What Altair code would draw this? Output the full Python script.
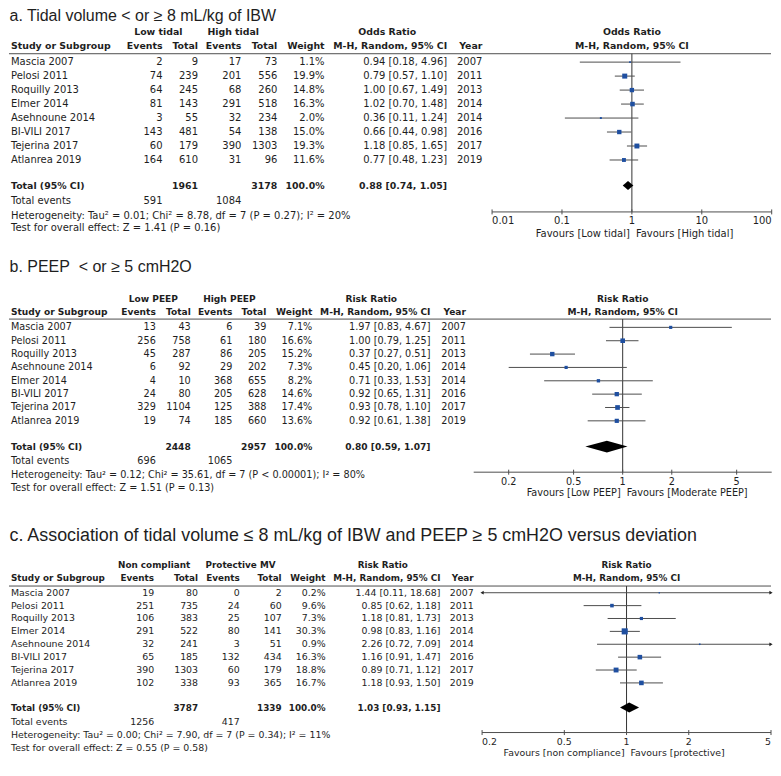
import altair as alt
import pandas as pd

# ---------------- data ----------------
# Panel a
studies_a = ["Mascia 2007", "Pelosi 2011", "Roquilly 2013", "Elmer 2014", "Asehnoune 2014",
             "BI-VILI 2017", "Tejerina 2017", "Atlanrea 2019"]
ev1_a = [2, 74, 64, 81, 3, 143, 60, 164]
tot1_a = [9, 239, 245, 143, 55, 481, 179, 610]
ev2_a = [17, 201, 68, 291, 32, 54, 390, 31]
tot2_a = [73, 556, 260, 518, 234, 138, 1303, 96]
weight_a = [1.1, 19.9, 14.8, 16.3, 2.0, 15.0, 19.3, 11.6]
est_a = [0.94, 0.79, 1.00, 1.02, 0.36, 0.66, 1.18, 0.77]
lo_a = [0.18, 0.57, 0.67, 0.70, 0.11, 0.44, 0.85, 0.48]
hi_a = [4.96, 1.10, 1.49, 1.48, 1.24, 0.98, 1.65, 1.23]
year_a = [2007, 2011, 2013, 2014, 2014, 2016, 2017, 2019]
total_a = [1961, 3178]
total_weight_a = "100.0%"
total_ci_a = [0.88, 0.74, 1.05]
total_events_a = [591, 1084]
ticks_a = [0.01, 0.1, 1, 10, 100]
tick_labels_a = ["0.01", "0.1", "1", "10", "100"]
axis_ext_a = [0.01, 100]

# Panel b
studies_b = ["Mascia 2007", "Pelosi 2011", "Roquilly 2013", "Asehnoune 2014", "Elmer 2014",
             "BI-VILI 2017", "Tejerina 2017", "Atlanrea 2019"]
ev1_b = [13, 256, 45, 6, 4, 24, 329, 19]
tot1_b = [43, 758, 287, 92, 10, 80, 1104, 74]
ev2_b = [6, 61, 86, 29, 368, 205, 125, 185]
tot2_b = [39, 180, 205, 202, 655, 628, 388, 660]
weight_b = [7.1, 16.6, 15.2, 7.3, 8.2, 14.6, 17.4, 13.6]
est_b = [1.97, 1.00, 0.37, 0.45, 0.71, 0.92, 0.93, 0.92]
lo_b = [0.83, 0.79, 0.27, 0.20, 0.33, 0.65, 0.78, 0.61]
hi_b = [4.67, 1.25, 0.51, 1.06, 1.53, 1.31, 1.10, 1.38]
year_b = [2007, 2011, 2013, 2014, 2014, 2016, 2017, 2019]
total_b = [2448, 2957]
total_weight_b = "100.0%"
total_ci_b = [0.80, 0.59, 1.07]
total_events_b = [696, 1065]
ticks_b = [0.2, 0.5, 1, 2, 5]
tick_labels_b = ["0.2", "0.5", "1", "2", "5"]
axis_ext_b = [0.122, 8.2]

# Panel c
studies_c = ["Mascia 2007", "Pelosi 2011", "Roquilly 2013", "Elmer 2014", "Asehnoune 2014",
             "BI-VILI 2017", "Tejerina 2017", "Atlanrea 2019"]
ev1_c = [19, 251, 106, 291, 32, 65, 390, 102]
tot1_c = [80, 735, 383, 522, 241, 185, 1303, 338]
ev2_c = [0, 24, 25, 80, 3, 132, 60, 93]
tot2_c = [2, 60, 107, 141, 51, 434, 179, 365]
weight_c = [0.2, 9.6, 7.3, 30.3, 0.9, 16.3, 18.8, 16.7]
est_c = [1.44, 0.85, 1.18, 0.98, 2.26, 1.16, 0.89, 1.18]
lo_c = [0.11, 0.62, 0.81, 0.83, 0.72, 0.91, 0.71, 0.93]
hi_c = [18.68, 1.18, 1.73, 1.16, 7.09, 1.47, 1.12, 1.50]
year_c = [2007, 2011, 2013, 2014, 2014, 2016, 2017, 2019]
total_c = [3787, 1339]
total_weight_c = "100.0%"
total_ci_c = [1.03, 0.93, 1.15]
total_events_c = [1256, 417]
ticks_c = [0.2, 0.5, 1, 2, 5]
tick_labels_c = ["0.2", "0.5", "1", "2", "5"]
axis_ext_c = [0.2, 5]

panels = [
    dict(title="a. Tidal volume < or \u2265 8 mL/kg of IBW",
         groups=["Low tidal", "High tidal", "Odds Ratio"],
         studies=studies_a, ev1=ev1_a, tot1=tot1_a, ev2=ev2_a, tot2=tot2_a, weight=weight_a,
         est=est_a, lo=lo_a, hi=hi_a, year=year_a, total=total_a, total_weight=total_weight_a,
         total_ci=total_ci_a, total_events=total_events_a, ticks=ticks_a,
         tick_labels=tick_labels_a, ext=axis_ext_a,
         het="Heterogeneity: Tau\u00b2 = 0.01; Chi\u00b2 = 8.78, df = 7 (P = 0.27); I\u00b2 = 20%",
         test="Test for overall effect: Z = 1.41 (P = 0.16)",
         fav=["Favours [Low tidal]", "Favours [High tidal]"]),
    dict(title="b. PEEP\u00a0 < or \u2265 5 cmH2O",
         groups=["Low PEEP", "High PEEP", "Risk Ratio"],
         studies=studies_b, ev1=ev1_b, tot1=tot1_b, ev2=ev2_b, tot2=tot2_b, weight=weight_b,
         est=est_b, lo=lo_b, hi=hi_b, year=year_b, total=total_b, total_weight=total_weight_b,
         total_ci=total_ci_b, total_events=total_events_b, ticks=ticks_b,
         tick_labels=tick_labels_b, ext=axis_ext_b,
         het="Heterogeneity: Tau\u00b2 = 0.12; Chi\u00b2 = 35.61, df = 7 (P < 0.00001); I\u00b2 = 80%",
         test="Test for overall effect: Z = 1.51 (P = 0.13)",
         fav=["Favours [Low PEEP]", "Favours [Moderate PEEP]"]),
    dict(title="c. Association of tidal volume \u2264 8 mL/kg of IBW and PEEP \u2265 5 cmH2O versus deviation",
         groups=["Non compliant", "Protective MV", "Risk Ratio"],
         studies=studies_c, ev1=ev1_c, tot1=tot1_c, ev2=ev2_c, tot2=tot2_c, weight=weight_c,
         est=est_c, lo=lo_c, hi=hi_c, year=year_c, total=total_c, total_weight=total_weight_c,
         total_ci=total_ci_c, total_events=total_events_c, ticks=ticks_c,
         tick_labels=tick_labels_c, ext=axis_ext_c,
         het="Heterogeneity: Tau\u00b2 = 0.00; Chi\u00b2 = 7.90, df = 7 (P = 0.34); I\u00b2 = 11%",
         test="Test for overall effect: Z = 0.55 (P = 0.58)",
         fav=["Favours [non compliance]", "Favours [protective]"]),
]

# ---------------- layout (reference pixel positions) ----------------
# y0/H: reference y-range shown by each panel (panels are stacked without gaps)
layouts = [
    dict(y0=5, H=229, title_y=11, title_fs=16, fs=10, fsb=9.4,
         h1=26.7, h2=41, line=48.3, row0=56.7, step=14.0,
         total=180.3, tev=195.7, het=210.7, test=223.3, axis=206.7, tlab=215.8, fav=229.3,
         diamond=4.5, x0=491.7, x1=771.7,
         cols=dict(ev1=161.7, tot1=197.3, ev2=240.7, tot2=276.7, weight=324, ci=446.7, year=482),
         gcent=[157.5, 232.5, 386.7]),
    dict(y0=240, H=259, title_y=266.7, title_fs=16, fs=9.7, fsb=9.1,
         h1=299, h2=311.7, line=319, row0=327.3, step=13.37,
         total=446.7, tev=461, het=475, test=487.7, axis=472.3, tlab=481.9, fav=493.5,
         diamond=5.8, x0=473.3, x1=771.7,
         cols=dict(ev1=155, tot1=190, ev2=231.7, tot2=265.7, weight=311.7, ci=430, year=465.5),
         gcent=[152.5, 228.7, 370.7]),
    dict(y0=516, H=260, title_y=553.3, title_fs=17.9, fs=9.4, fsb=8.85,
         h1=582.3, h2=595.7, line=603.3, row0=610, step=12.9,
         total=725, tev=739.3, het=752.7, test=765.3, axis=750, tlab=759.5, fav=770,
         diamond=5.0, x0=481.7, x1=771,
         cols=dict(ev1=153.3, tot1=197.3, ev2=239, tot2=281, weight=325, ci=440, year=473.3),
         gcent=[153.3, 239.8, 382.3]),
]

PAGE = 8
W = 763
TEXT = "#1e1e1e"
BLUE = "#1f4fa0"
GREY = "#4d4d4d"
FONT = "DejaVu Sans"
TFONT = "Liberation Sans"


def ci_text(e, l, h):
    return f"{e:.2f} [{l:.2f}, {h:.2f}]"


def build(d, L):
    FS, FSB = L["fs"], L["fsb"]
    ys = alt.Scale(domain=[L["y0"], L["y0"] + L["H"]], range=[0, L["H"]])
    xs = alt.Scale(type="log", domain=d["ext"], range=[L["x0"] - PAGE, L["x1"] - PAGE], clamp=True)
    Y = lambda f: alt.Y(f"{f}:Q", scale=ys, axis=None)
    X = lambda f: alt.X(f"{f}:Q", scale=xs, axis=None)
    cols = L["cols"]
    layers = []

    def T(df, xpx, field="t", align="right", bold=False, size=None, font=FONT):
        if size is None:
            size = FSB if bold else FS
        return alt.Chart(df).mark_text(
            align=align, baseline="middle", font=font, fontSize=size,
            fontWeight="bold" if bold else "normal", color=TEXT
        ).encode(x=alt.value(xpx - PAGE), y=Y("y"), text=alt.Text(f"{field}:N"))

    def one(text, y):
        return pd.DataFrame({"t": [text], "y": [y]})

    # title
    layers.append(T(one(d["title"], L["title_y"]), PAGE + 0.5, align="left", size=L["title_fs"], font=TFONT))
    # header row 1
    for g, cx in zip(d["groups"], L["gcent"]):
        layers.append(T(one(g, L["h1"]), cx, align="center", bold=True))
    # header row 2
    layers.append(T(one("Study or Subgroup", L["h2"]), 10, align="left", bold=True))
    for lab, key in [("Events", "ev1"), ("Total", "tot1"), ("Events", "ev2"), ("Total", "tot2"),
                     ("Weight", "weight"), ("M-H, Random, 95% CI", "ci"), ("Year", "year")]:
        layers.append(T(one(lab, L["h2"]), cols[key], bold=True))
    # header line
    layers.append(alt.Chart(pd.DataFrame({"y": [L["line"]]})).mark_rule(color=GREY, strokeWidth=1).encode(
        x=alt.value(0), x2=alt.value(W), y=Y("y")))

    n = len(d["studies"])
    rows = pd.DataFrame({
        "study": d["studies"],
        "ev1": [str(v) for v in d["ev1"]],
        "tot1": [str(v) for v in d["tot1"]],
        "ev2": [str(v) for v in d["ev2"]],
        "tot2": [str(v) for v in d["tot2"]],
        "weight": [f"{v:.1f}%" for v in d["weight"]],
        "ci": [ci_text(e, l, h) for e, l, h in zip(d["est"], d["lo"], d["hi"])],
        "year": [str(v) for v in d["year"]],
        "est": d["est"], "lo": d["lo"], "hi": d["hi"], "w": d["weight"],
        "y": [L["row0"] + i * L["step"] for i in range(n)],
    })
    layers.append(T(rows, 10, "study", align="left"))
    for key in ["ev1", "tot1", "ev2", "tot2", "weight", "ci", "year"]:
        layers.append(T(rows, cols[key], key))

    # total row
    layers.append(T(one("Total (95% CI)", L["total"]), 10, align="left", bold=True))
    layers.append(T(one(str(d["total"][0]), L["total"]), cols["tot1"], bold=True))
    layers.append(T(one(str(d["total"][1]), L["total"]), cols["tot2"], bold=True))
    layers.append(T(one(d["total_weight"], L["total"]), cols["weight"], bold=True))
    layers.append(T(one(ci_text(*d["total_ci"]), L["total"]), cols["ci"], bold=True))
    # total events
    layers.append(T(one("Total events", L["tev"]), 10, align="left"))
    layers.append(T(one(str(d["total_events"][0]), L["tev"]), cols["ev1"]))
    layers.append(T(one(str(d["total_events"][1]), L["tev"]), cols["ev2"]))
    # heterogeneity / test
    layers.append(T(one(d["het"], L["het"]), 10, align="left"))
    layers.append(T(one(d["test"], L["test"]), 10, align="left"))

    # ---- forest plot ----
    fh = pd.DataFrame({"x": [1, 1], "t": [d["groups"][2], "M-H, Random, 95% CI"], "y": [L["h1"], L["h2"]]})
    layers.append(alt.Chart(fh).mark_text(align="center", baseline="middle", font=FONT, fontSize=FSB,
                                          fontWeight="bold", color=TEXT).encode(x=X("x"), y=Y("y"), text="t:N"))
    # line of no effect
    layers.append(alt.Chart(pd.DataFrame({"x": [1], "y": [L["line"]], "y2": [L["axis"]]})).mark_rule(
        color="#333333", strokeWidth=1).encode(x=X("x"), y=Y("y"), y2="y2:Q"))
    # CIs
    layers.append(alt.Chart(rows).mark_rule(color=GREY, strokeWidth=1).encode(
        x=X("lo"), x2="hi:Q", y=Y("y")))
    # arrows where CI exceeds the axis
    lo_cut = rows[rows["lo"] < d["ext"][0]].assign(x=d["ext"][0])
    hi_cut = rows[rows["hi"] > d["ext"][1]].assign(x=d["ext"][1])
    if len(lo_cut):
        layers.append(alt.Chart(lo_cut).mark_point(shape="triangle-left", filled=True, size=14, dx=1,
                                                   color="#222222", opacity=1).encode(x=X("x"), y=Y("y")))
    if len(hi_cut):
        layers.append(alt.Chart(hi_cut).mark_point(shape="triangle-right", filled=True, size=14, dx=-1,
                                                   color="#222222", opacity=1).encode(x=X("x"), y=Y("y")))
    # squares (area proportional to weight)
    layers.append(alt.Chart(rows).mark_square(filled=True, color=BLUE, opacity=1).encode(
        x=X("est"), y=Y("y"),
        size=alt.Size("w:Q", scale=alt.Scale(domain=[0, 30], range=[1.5, 37]), legend=None)))
    # pooled diamond
    e, l, h = d["total_ci"]
    ty, dh = L["total"], L["diamond"]
    dia = pd.DataFrame({"x": [l, e, h], "y1": [ty, ty - dh, ty], "y2": [ty, ty + dh, ty]})
    layers.append(alt.Chart(dia).mark_area(color="black", opacity=1).encode(
        x=X("x"), y=Y("y1"), y2="y2:Q"))
    # axis line, ticks, labels
    layers.append(alt.Chart(pd.DataFrame({"x": [d["ext"][0]], "x2": [d["ext"][1]], "y": [L["axis"]]})).mark_rule(
        color=GREY, strokeWidth=1).encode(x=X("x"), x2="x2:Q", y=Y("y")))
    nt = len(d["ticks"])
    tk = pd.DataFrame({"x": d["ticks"], "t": d["tick_labels"],
                       "y": [L["axis"] - 2.5] * nt, "y2": [L["axis"] + 2.5] * nt,
                       "yl": [L["tlab"]] * nt})
    layers.append(alt.Chart(tk).mark_rule(color=GREY, strokeWidth=1).encode(x=X("x"), y=Y("y"), y2="y2:Q"))
    # labels at the axis ends are aligned inwards, the others centred
    tk_left = tk[tk["x"] <= d["ext"][0]]
    tk_right = tk[tk["x"] >= d["ext"][1]]
    tk_mid = tk[(tk["x"] > d["ext"][0]) & (tk["x"] < d["ext"][1])]
    for part, al in [(tk_left, "left"), (tk_mid, "center"), (tk_right, "right")]:
        if len(part):
            layers.append(alt.Chart(part).mark_text(align=al, baseline="middle", font=FONT, fontSize=FS,
                                                    color=TEXT).encode(x=X("x"), y=Y("yl"), text="t:N"))
    # favours labels
    fv = pd.DataFrame({"x": [1], "t": [d["fav"][0]], "y": [L["fav"]]})
    layers.append(alt.Chart(fv).mark_text(align="right", baseline="middle", dx=-2, font=FONT, fontSize=FS,
                                          color=TEXT).encode(x=X("x"), y=Y("y"), text="t:N"))
    fv2 = pd.DataFrame({"x": [1], "t": [d["fav"][1]], "y": [L["fav"]]})
    layers.append(alt.Chart(fv2).mark_text(align="left", baseline="middle", dx=4, font=FONT, fontSize=FS,
                                           color=TEXT).encode(x=X("x"), y=Y("y"), text="t:N"))

    return alt.layer(*layers).properties(width=W, height=L["H"])


charts = [build(d, L) for d, L in zip(panels, layouts)]
chart = alt.vconcat(*charts, spacing=0).properties(padding=0, background="white").configure_view(stroke=None)

chart.save("out.html", embed_options={"renderer": "svg", "actions": False})
